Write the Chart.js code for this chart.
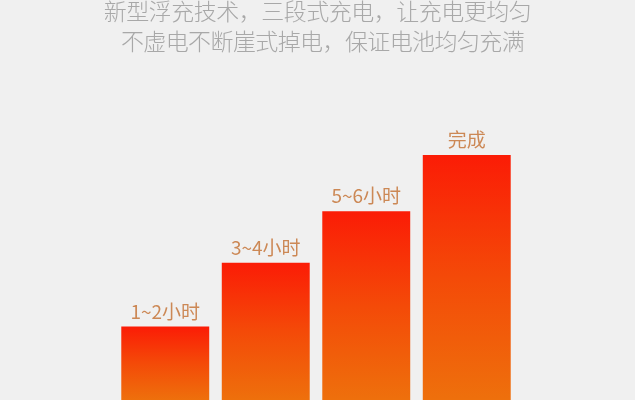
<!DOCTYPE html>
<html>
<head>
<meta charset="utf-8">
<script src="https://cdn.jsdelivr.net/npm/chart.js@4.4.1/dist/chart.umd.min.js"></script>
<style>
  html, body { margin: 0; padding: 0; background: #f0f0f0; }
  #wrap { width: 635px; height: 400px; position: relative; }
</style>
</head>
<body>
<div id="wrap"><canvas id="c"></canvas></div>
<script>
const titleLines = ['新型浮充技术，三段式充电，让充电更均匀', '不虚电不断崖式掉电，保证电池均匀充满'];
const categories = ['1~2小时', '3~4小时', '5~6小时', '完成'];
const chargeLevel = [30, 56, 77, 100];

const headerText = {
  id: 'headerText',
  afterDraw(chart) {
    const ctx = chart.ctx;
    const cx = chart.width / 2;
    ctx.save();
    ctx.font = '300 23px "Noto Sans CJK SC", sans-serif';
    ctx.fillStyle = '#a8a8a8';
    ctx.textAlign = 'center';
    ctx.textBaseline = 'middle';
    ctx.letterSpacing = '-0.5px';
    ctx.fillText(titleLines[0], cx, 11.5);
    ctx.letterSpacing = '-0.6px';
    ctx.fillText(titleLines[1], cx + 5, 41);
    ctx.restore();
  }
};

const barLabels = {
  id: 'barLabels',
  afterDatasetsDraw(chart) {
    const ctx = chart.ctx;
    const meta = chart.getDatasetMeta(0);
    ctx.save();
    ctx.font = '19px "Noto Sans CJK SC", sans-serif';
    ctx.fillStyle = '#cc8855';
    ctx.textAlign = 'center';
    ctx.textBaseline = 'alphabetic';
    meta.data.forEach((bar, i) => {
      ctx.fillText(chart.data.labels[i], bar.x, bar.y - 8);
    });
    ctx.restore();
  }
};

new Chart(document.getElementById('c'), {
  type: 'bar',
  data: {
    labels: categories,
    datasets: [{
      data: chargeLevel,
      backgroundColor: (c) => {
        const chart = c.chart;
        const area = chart.chartArea;
        if (!area || c.type !== 'data') return '#f8300a';
        const top = chart.scales.y.getPixelForValue(c.raw);
        const g = chart.ctx.createLinearGradient(0, top, 0, area.bottom);
        g.addColorStop(0, '#fb1c06');
        g.addColorStop(0.5, '#f44a08');
        g.addColorStop(1, '#ee700c');
        return g;
      },
      borderWidth: 0,
      barPercentage: 0.875,
      categoryPercentage: 1
    }]
  },
  options: {
    responsive: true,
    maintainAspectRatio: false,
    animation: false,
    layout: { padding: { left: 115, right: 118, top: 155, bottom: 0 } },
    plugins: {
      legend: { display: false },
      tooltip: { enabled: false },
      title: { display: false }
    },
    scales: {
      x: { display: false, offset: true, grid: { display: false } },
      y: { display: false, min: 0, max: 100, grid: { display: false } }
    }
  },
  plugins: [barLabels, headerText]
});
</script>
</body>
</html>
